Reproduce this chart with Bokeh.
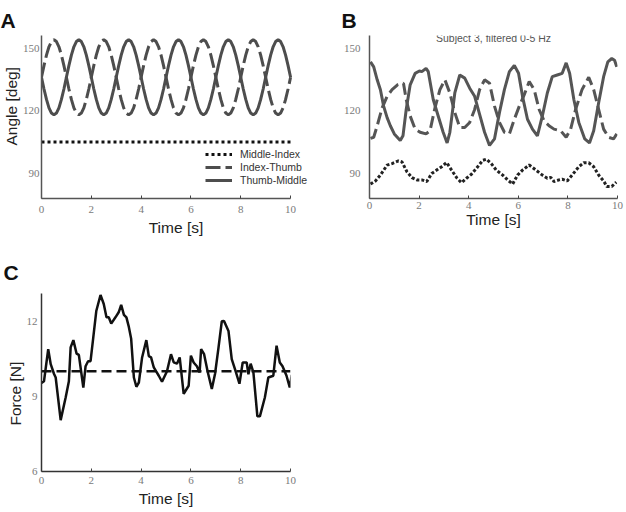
from bokeh.plotting import figure
from bokeh.layouts import row, column
from bokeh.models import Range1d, Label, FixedTicker, Title
from bokeh.embed import file_html
from bokeh.resources import INLINE

# ---------------- Panel A data ----------------
a_time = [0.0, 0.1, 0.2, 0.3, 0.4, 0.5, 0.6, 0.7, 0.8, 0.9,
          1.0, 1.1, 1.2, 1.3, 1.4, 1.5, 1.6, 1.7, 1.8, 1.9,
          2.0, 2.1, 2.2, 2.3, 2.4, 2.5, 2.6, 2.7, 2.8, 2.9,
          3.0, 3.1, 3.2, 3.3, 3.4, 3.5, 3.6, 3.7, 3.8, 3.9,
          4.0, 4.1, 4.2, 4.3, 4.4, 4.5, 4.6, 4.7, 4.8, 4.9,
          5.0, 5.1, 5.2, 5.3, 5.4, 5.5, 5.6, 5.7, 5.8, 5.9,
          6.0, 6.1, 6.2, 6.3, 6.4, 6.5, 6.6, 6.7, 6.8, 6.9,
          7.0, 7.1, 7.2, 7.3, 7.4, 7.5, 7.6, 7.7, 7.8, 7.9,
          8.0, 8.1, 8.2, 8.3, 8.4, 8.5, 8.6, 8.7, 8.8, 8.9,
          9.0, 9.1, 9.2, 9.3, 9.4, 9.5, 9.6, 9.7, 9.8, 9.9, 10.0]
a_index_thumb = [136, 141.6, 146.6, 150.6, 153.1, 154, 153.1, 150.6, 146.6, 141.6,
                 136, 130.4, 125.4, 121.4, 118.9, 118, 118.9, 121.4, 125.4, 130.4,
                 136, 141.6, 146.6, 150.6, 153.1, 154, 153.1, 150.6, 146.6, 141.6,
                 136, 130.4, 125.4, 121.4, 118.9, 118, 118.9, 121.4, 125.4, 130.4,
                 136, 141.6, 146.6, 150.6, 153.1, 154, 153.1, 150.6, 146.6, 141.6,
                 136, 130.4, 125.4, 121.4, 118.9, 118, 118.9, 121.4, 125.4, 130.4,
                 136, 141.6, 146.6, 150.6, 153.1, 154, 153.1, 150.6, 146.6, 141.6,
                 136, 130.4, 125.4, 121.4, 118.9, 118, 118.9, 121.4, 125.4, 130.4,
                 136, 141.6, 146.6, 150.6, 153.1, 154, 153.1, 150.6, 146.6, 141.6,
                 136, 130.4, 125.4, 121.4, 118.9, 118, 118.9, 121.4, 125.4, 130.4, 136]
a_thumb_middle = [136, 130.4, 125.4, 121.4, 118.9, 118, 118.9, 121.4, 125.4, 130.4,
                  136, 141.6, 146.6, 150.6, 153.1, 154, 153.1, 150.6, 146.6, 141.6,
                  136, 130.4, 125.4, 121.4, 118.9, 118, 118.9, 121.4, 125.4, 130.4,
                  136, 141.6, 146.6, 150.6, 153.1, 154, 153.1, 150.6, 146.6, 141.6,
                  136, 130.4, 125.4, 121.4, 118.9, 118, 118.9, 121.4, 125.4, 130.4,
                  136, 141.6, 146.6, 150.6, 153.1, 154, 153.1, 150.6, 146.6, 141.6,
                  136, 130.4, 125.4, 121.4, 118.9, 118, 118.9, 121.4, 125.4, 130.4,
                  136, 141.6, 146.6, 150.6, 153.1, 154, 153.1, 150.6, 146.6, 141.6,
                  136, 130.4, 125.4, 121.4, 118.9, 118, 118.9, 121.4, 125.4, 130.4,
                  136, 141.6, 146.6, 150.6, 153.1, 154, 153.1, 150.6, 146.6, 141.6, 136]
a_mi_time = [0, 10]
a_middle_index = [105, 105]

# ---------------- Panel B data ----------------
b_tm_time = [0.04, 0.17, 0.31, 0.44, 0.57, 0.71, 0.84, 1.0, 1.24, 1.35, 1.48, 1.64, 1.84,
             2.01, 2.11, 2.28, 2.37, 2.57, 2.77, 2.97, 3.13, 3.24, 3.44, 3.64, 3.84, 4.04,
             4.24, 4.44, 4.64, 4.84, 5.04, 5.24, 5.44, 5.64, 5.84, 6.01, 6.17, 6.37, 6.57,
             6.77, 6.97, 7.17, 7.37, 7.57, 7.77, 7.93, 8.07, 8.24, 8.44, 8.68, 8.87, 9.04,
             9.24, 9.44, 9.61, 9.77, 9.88, 9.97]
b_thumb_middle = [143.4, 141, 134.8, 130, 122.2, 116.7, 112.8, 108.9, 105.7, 108, 120.6, 132.4, 137.9,
                  139, 138.7, 140.3, 138.7, 125.4, 117.5, 109.7, 104.6, 109.7, 128.5, 137.1, 135.6, 130.8,
                  126.9, 118.3, 109.7, 103.4, 106.5, 119.1, 130.1, 138.7, 141.7, 137.9, 126.9, 115.9, 111.2,
                  108, 117.5, 128.5, 136.3, 137.1, 137.9, 142.9, 137.9, 125.4, 114.4, 106.5, 104.6, 110.4,
                  123.8, 136.3, 143.4, 145, 144.2, 141]
b_it_time = [0.04, 0.17, 0.31, 0.51, 0.71, 0.91, 1.13, 1.37, 1.48, 1.64, 1.84, 2.04, 2.28,
             2.44, 2.64, 2.84, 3.04, 3.24, 3.44, 3.64, 3.84, 4.04, 4.24, 4.44, 4.64, 4.84,
             5.04, 5.24, 5.44, 5.64, 5.84, 6.04, 6.24, 6.44, 6.64, 6.84, 7.04, 7.24, 7.44,
             7.71, 7.93, 8.11, 8.31, 8.57, 8.84, 9.04, 9.24, 9.44, 9.64, 9.84, 9.97]
b_index_thumb = [106.8, 107.3, 112.8, 121.4, 126.9, 130.1, 132.4, 133.2, 125.4, 117.5, 111.2, 109.7, 108.9,
                 110.4, 121.4, 130.1, 134.8, 128.5, 119.1, 112, 112, 114.4, 120.6, 130.1, 134.8, 133.2,
                 122.2, 114.4, 109.7, 108.9, 115.9, 122.2, 127.7, 134, 130.1, 120.6, 115.1, 112.8, 111.2,
                 110.4, 107.3, 111.2, 120.6, 130.1, 136, 130.1, 120.6, 111.2, 107.3, 106.5, 108.9]
b_mi_time = [0.04, 0.24, 0.44, 0.71, 0.91, 1.17, 1.31, 1.51, 1.71, 1.91, 2.11, 2.31, 2.51,
             2.71, 2.91, 3.11, 3.31, 3.53, 3.71, 3.91, 4.11, 4.31, 4.57, 4.71, 4.91, 5.11,
             5.37, 5.57, 5.77, 5.97, 6.17, 6.44, 6.71, 6.97, 7.17, 7.31, 7.44, 7.64, 7.77,
             7.97, 8.17, 8.44, 8.64, 8.84, 9.04, 9.24, 9.44, 9.57, 9.77, 9.88, 9.95]
b_middle_index = [84.9, 86.4, 89.2, 94, 94.7, 96, 95.5, 90.8, 88, 86.9, 86.9, 86.1, 90,
                  91.6, 93.2, 95.2, 91.6, 87.7, 85.6, 87.7, 89.6, 92.4, 96.3, 96.8, 94.7, 91.6,
                  89.2, 86.9, 84.9, 89.2, 91.6, 94, 91.6, 89.2, 87.7, 88.1, 86.1, 86.9, 87.2,
                  86.4, 89.2, 93.2, 95.1, 95.1, 93.2, 89.2, 86.4, 83.8, 83.8, 85, 85.8]

# ---------------- Panel C data ----------------
c_time = [0, 0.1, 0.27, 0.37, 0.5, 0.57, 0.77, 0.97, 1.1, 1.17, 1.28, 1.41, 1.5, 1.68, 1.77,
          1.87, 1.97, 2.08, 2.2, 2.37, 2.5, 2.61, 2.7, 2.8, 2.97, 3.1, 3.2, 3.31, 3.41, 3.5,
          3.6, 3.71, 3.81, 3.91, 4.04, 4.21, 4.31, 4.4, 4.51, 4.6, 4.71, 4.84, 5.04, 5.2,
          5.31, 5.44, 5.55, 5.71, 5.91, 6.0, 6.11, 6.24, 6.35, 6.41, 6.53, 6.67, 6.84, 6.97,
          7.11, 7.24, 7.33, 7.51, 7.64, 7.77, 7.95, 8.08, 8.24, 8.31, 8.4, 8.51, 8.67, 8.77,
          8.97, 9.11, 9.31, 9.44, 9.57, 9.68, 9.84, 9.97, 10.05]
c_force = [9.53, 9.6, 10.88, 10.28, 9.9, 9.75, 8.05, 8.95, 9.6, 10.95, 11.24, 10.7, 10.65, 9.35, 10.2,
           10.4, 10.4, 11.35, 12.4, 13.04, 12.68, 12.15, 12.15, 11.9, 12.15, 12.35, 12.65, 12.25, 12.15, 11.8,
           11.3, 9.75, 9.38, 9.55, 10.55, 11.24, 10.6, 10.55, 10.15, 10.0, 9.82, 9.58, 10.0, 10.68,
           10.35, 10.3, 10.55, 9.1, 9.42, 10.62, 10.35, 10.2, 9.95, 10.88, 10.68, 10.0, 9.29, 9.9,
           10.95, 11.99, 12.0, 11.6, 10.48, 10.08, 9.5, 10.35, 10.35, 9.88, 10.3, 9.95, 8.2, 8.2,
           8.95, 9.75, 9.82, 11.02, 10.35, 10.2, 9.82, 9.35, 9.85]
c_target_time = [0, 10]
c_target = [10, 10]

x_ticks = [0, 2, 4, 6, 8, 10]
angle_ticks = [90, 120, 150]
force_ticks = [6, 9, 12]

SANS = "Liberation Sans"
SERIF = "Liberation Serif"
LINE_GREY = "#4d4d4d"


def make_fig(w, h, left, right, top, bottom, xr, yr):
    p = figure(width=w, height=h, output_backend="svg", toolbar_location=None,
               x_range=Range1d(*xr), y_range=Range1d(*yr),
               min_border_left=left, min_border_right=right,
               min_border_top=top, min_border_bottom=bottom)
    p.outline_line_color = None
    p.grid.visible = False
    p.background_fill_color = "white"
    p.border_fill_color = "white"
    return p


def style_axes(p, yticks, y_standoff, x_standoff, xlabel_standoff):
    xa = p.xaxis[0]
    xa.ticker = FixedTicker(ticks=x_ticks)
    xa.bounds = (0, 10)
    xa.major_tick_in = 3
    xa.major_tick_out = 0
    xa.minor_tick_line_color = None
    xa.major_tick_line_color = "#444444"
    xa.axis_line_color = "#555555"
    xa.axis_line_width = 1.5
    xa.major_label_text_font = SERIF
    xa.major_label_text_font_size = "11px"
    xa.major_label_text_color = "#7a7a7a"
    xa.major_label_standoff = x_standoff
    xa.axis_label = "Time [s]"
    xa.axis_label_text_font = SANS
    xa.axis_label_text_font_size = "15.5px"
    xa.axis_label_text_font_style = "normal"
    xa.axis_label_text_color = "#222222"
    xa.axis_label_standoff = xlabel_standoff

    ya = p.yaxis[0]
    ya.ticker = FixedTicker(ticks=yticks)
    ya.major_tick_in = 0
    ya.major_tick_out = 0
    ya.minor_tick_line_color = None
    ya.axis_line_color = "#555555"
    ya.axis_line_width = 1.5
    ya.major_label_text_font = SERIF
    ya.major_label_text_font_size = "11px"
    ya.major_label_text_color = "#7a7a7a"
    ya.major_label_standoff = y_standoff


def letter(p, txt, offset, standoff):
    t = p.title
    t.text = txt
    t.align = "left"
    t.vertical_align = "top"
    t.offset = offset
    t.standoff = standoff
    t.text_font = SANS
    t.text_font_size = "21px"
    t.text_font_style = "bold"
    t.text_color = "#111111"


def ylabel(p, txt, offset, standoff):
    p.add_layout(Title(text=txt, align="left", offset=offset, standoff=standoff,
                       text_font=SANS, text_font_size="15.5px", text_font_style="normal",
                       text_color="#222222"), "left")


# ---------------- Panel A ----------------
pa = make_fig(320, 251, 41, 10, 30, 53, (0, 10.8), (78, 156))
style_axes(pa, angle_ticks, 2, 7, 3)
pa.line(a_mi_time, a_middle_index, line_color="#111111", line_width=3, line_dash="3 3",
        legend_label="Middle-Index")
pa.line(a_time, a_index_thumb, line_color=LINE_GREY, line_width=3, line_dash="15 5",
        legend_label="Index-Thumb")
pa.line(a_time, a_thumb_middle, line_color=LINE_GREY, line_width=3,
        legend_label="Thumb-Middle")
lg = pa.legend[0]
lg.location = (164, 12)
lg.padding = 0
lg.margin = 0
lg.spacing = 1
lg.label_height = 12
lg.glyph_height = 12
lg.glyph_width = 27
lg.label_standoff = 8
lg.border_line_color = None
lg.background_fill_alpha = 0
lg.label_text_font = SANS
lg.label_text_font_size = "10.5px"
lg.label_text_color = "#333333"
letter(pa, "A", -41, 3)
ylabel(pa, "Angle [deg]", 53, 0)

# ---------------- Panel B ----------------
pb = make_fig(306, 251, 49, 9, 35, 51, (0, 10), (78, 156))
style_axes(pb, angle_ticks, 9, 3, -1)
pb.line(b_mi_time, b_middle_index, line_color="#222222", line_width=3, line_dash="3 2")
pb.line(b_it_time, b_index_thumb, line_color="#555555", line_width=3, line_dash="12 5")
pb.line(b_tm_time, b_thumb_middle, line_color="#555555", line_width=3)
pb.add_layout(Label(x=5, y=154.6, text="Subject 3, filtered 0-5 Hz", text_font=SANS,
                    text_font_size="10.5px", text_color="#555555",
                    text_align="center", text_baseline="middle"))
letter(pb, "B", -28, 3)

# ---------------- Panel C ----------------
pc = make_fig(320, 261, 41, 30, 42, 41, (0, 10), (6, 13.1))
style_axes(pc, force_ticks, 4, 5, 3)
pc.xaxis[0].axis_line_color = "#333333"
pc.yaxis[0].axis_line_color = "#333333"
pc.line(c_target_time, c_target, line_color="#111111", line_width=2.5, line_dash="10 5")
pc.line(c_time, c_force, line_color="#111111", line_width=2.5)
letter(pc, "C", -38, 16)
ylabel(pc, "Force [N]", 46, 0)

layout = column(row(pa, pb), pc)

open("out.html", "w").write(file_html(layout, INLINE))
